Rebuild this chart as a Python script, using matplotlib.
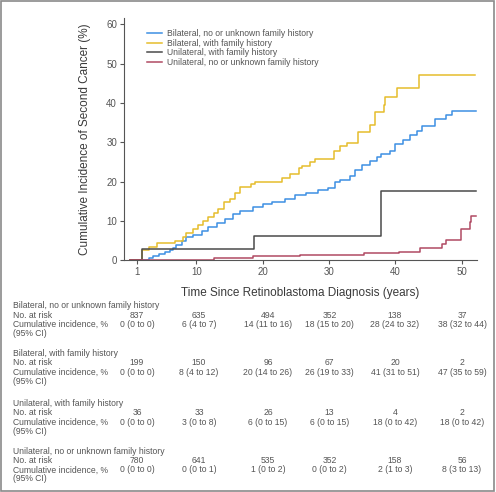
import matplotlib.pyplot as plt
from matplotlib.patches import Rectangle

# Curvas de incidencia acumulada (escalones)
bil_nofam_t = [0, 2.8, 3.5, 4.3, 5.3, 6.0, 6.5, 7.0, 7.8, 8.5, 9.5, 10.8, 11.8, 13.1, 14.3, 15.6,
               16.6, 18.6, 20.1, 21.4, 23.4, 24.9, 26.6, 28.4, 29.9, 30.9, 31.7, 33.2, 33.9, 34.9,
               36.2, 37.2, 37.8, 39.2, 39.9, 41.2, 42.2, 43.2, 44.0, 46.0, 47.7, 48.5, 49.0, 52.2]
bil_nofam_y = [0, 0.5, 1.0, 1.5, 2.0, 2.5, 3.0, 4.0, 5.0, 5.8, 6.5, 7.5, 8.5, 9.5, 10.5, 11.8,
               12.5, 13.5, 14.2, 14.8, 15.5, 16.5, 17.2, 17.8, 18.5, 20.0, 20.3, 21.5, 23.0, 24.3,
               25.2, 26.3, 27.0, 27.8, 29.5, 30.5, 31.8, 32.8, 34.2, 35.8, 37.0, 37.9, 37.9, 37.9]

bil_fam_t = [0, 1.85, 2.8, 4.0, 6.8, 8.0, 8.5, 9.5, 10.3, 11.0, 11.8, 12.6, 13.3, 14.1, 15.1,
             15.9, 16.6, 18.3, 18.8, 22.9, 24.1, 25.4, 25.9, 27.1, 27.9, 30.8, 31.7, 32.7, 34.3,
             36.2, 36.9, 38.3, 38.5, 40.3, 43.5, 52.0]
bil_fam_y = [0, 2.5, 3.5, 4.5, 5.0, 6.0, 7.0, 8.0, 9.0, 10.0, 11.0, 12.0, 13.0, 14.9, 15.5,
             17.0, 18.7, 19.5, 20.0, 21.0, 22.0, 23.5, 24.0, 25.0, 25.8, 27.8, 29.0, 29.9, 32.6,
             34.5, 37.6, 39.5, 41.4, 43.7, 47.2, 47.2]

uni_fam_t = [0, 1.85, 18.7, 37.8, 52.1]
uni_fam_y = [0, 2.8, 6.1, 17.5, 17.5]

uni_nofam_t = [0, 8.3, 12.6, 15.6, 18.6, 22.1, 25.6, 35.2, 40.5, 43.7, 47.0, 47.6, 49.9, 51.3,
               51.4, 52.1]
uni_nofam_y = [0, 0.2, 0.5, 0.7, 1.0, 1.2, 1.4, 1.8, 2.2, 3.05, 4.1, 5.2, 8.0, 9.8, 11.3, 11.3]

# Tabla de pacientes en riesgo
grupos = ["Bilateral, no or unknown family history",
          "Bilateral, with family history",
          "Unilateral, with family history",
          "Unilateral, no or unknown family history"]
en_riesgo = [["837", "635", "494", "352", "138", "37"],
             ["199", "150", "96", "67", "20", "2"],
             ["36", "33", "26", "13", "4", "2"],
             ["780", "641", "535", "352", "158", "56"]]
incidencia = [["0 (0 to 0)", "6 (4 to 7)", "14 (11 to 16)", "18 (15 to 20)", "28 (24 to 32)", "38 (32 to 44)"],
              ["0 (0 to 0)", "8 (4 to 12)", "20 (14 to 26)", "26 (19 to 33)", "41 (31 to 51)", "47 (35 to 59)"],
              ["0 (0 to 0)", "3 (0 to 8)", "6 (0 to 15)", "6 (0 to 15)", "18 (0 to 42)", "18 (0 to 42)"],
              ["0 (0 to 0)", "0 (0 to 1)", "1 (0 to 2)", "0 (0 to 2)", "2 (1 to 3)", "8 (3 to 13)"]]

W, H = 496, 492
plt.rcParams['font.family'] = ['Liberation Sans', 'DejaVu Sans']
fig = plt.figure(figsize=(W / 100, H / 100), dpi=100)
ax = fig.add_axes([124 / W, 1 - 260.3 / H, (477 - 124) / W, (260.3 - 18) / H])

gris = '#555555'

series = [(bil_nofam_t, bil_nofam_y, '#3d8fe3', grupos[0]),
          (bil_fam_t, bil_fam_y, '#e6bd2c', grupos[1]),
          (uni_fam_t, uni_fam_y, '#4a4a4a', grupos[2]),
          (uni_nofam_t, uni_nofam_y, '#b04a63', grupos[3])]
for t, y, c, lab in series:
    ax.step(t, y, where='post', color=c, lw=1.1, label=lab)

ax.set_xlim(-0.9, 52.3)
ax.set_ylim(0, 61.6)
ax.set_xticks([1, 10, 20, 30, 40, 50])
ax.set_yticks(range(0, 61, 10))
for s in ['top', 'right']:
    ax.spines[s].set_visible(False)
for s in ['left', 'bottom']:
    ax.spines[s].set_color(gris)
    ax.spines[s].set_linewidth(0.8)
ax.tick_params(colors=gris, labelsize=7, length=3, width=0.8, pad=2)

ax.set_xlabel('Time Since Retinoblastoma Diagnosis (years)', fontsize=8.5,
              color='#3a3a3a', labelpad=7)
ax.set_ylabel('Cumulative Incidence of Second Cancer (%)', fontsize=8.5,
              color='#3a3a3a', labelpad=11)

leg = ax.legend(loc='upper left', bbox_to_anchor=(0.065, 0.956), frameon=False,
                prop={'size': 6.2}, handlelength=1.75, handletextpad=0.6,
                labelspacing=0.1, borderaxespad=0, borderpad=0)
for txt in leg.get_texts():
    txt.set_color(gris)

# Tabla debajo del gráfico
col_x = [137, 199, 268, 329.5, 395, 462]
filas_y = [305.7, 353.3, 403.3, 451]
kw = dict(fontsize=6.2, color=gris, va='center')
for g, y0 in enumerate(filas_y):
    fig.text(12.7 / W, 1 - y0 / H, grupos[g], ha='left', **kw)
    fig.text(12.7 / W, 1 - (y0 + 9.5) / H, 'No. at risk', ha='left', **kw)
    fig.text(12.7 / W, 1 - (y0 + 19) / H, 'Cumulative incidence, %', ha='left', **kw)
    fig.text(12.7 / W, 1 - (y0 + 27.8) / H, '(95% CI)', ha='left', **kw)
    for j, cx in enumerate(col_x):
        fig.text(cx / W, 1 - (y0 + 9.5) / H, en_riesgo[g][j], ha='center', **kw)
        fig.text(cx / W, 1 - (y0 + 19) / H, incidencia[g][j], ha='center', **kw)

fig.patches.append(Rectangle((0.002, 0.002), 0.994, 0.996, transform=fig.transFigure,
                             fill=False, ec='#8a8a8a', lw=1.2))

fig.savefig('out.png', dpi=100)
